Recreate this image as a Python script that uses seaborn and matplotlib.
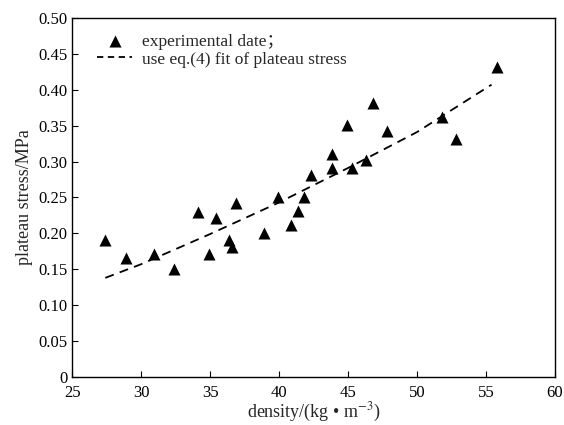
import pandas as pd
import matplotlib
matplotlib.use("Agg")
import matplotlib.pyplot as plt
import seaborn as sns

# experimental points
density = [27.4, 28.9, 30.9, 32.4, 34.1, 34.9, 35.4, 36.4, 36.6, 36.9,
           38.9, 39.9, 40.85, 41.35, 41.8, 42.3, 43.8, 43.8, 44.9, 45.3,
           46.3, 46.8, 47.8, 51.8, 52.8, 55.8]
stress = [0.191, 0.165, 0.171, 0.151, 0.230, 0.171, 0.221, 0.191, 0.181, 0.242,
          0.201, 0.251, 0.212, 0.231, 0.251, 0.281, 0.311, 0.291, 0.351, 0.291,
          0.302, 0.381, 0.342, 0.362, 0.331, 0.432]

# fitted curve, eq.(4)
fit_density = [27.4, 30, 35, 40, 45, 50, 55.4]
fit_stress = [0.138, 0.157, 0.199, 0.243, 0.291, 0.341, 0.407]

df = pd.DataFrame({"density": density, "stress": stress})
df_fit = pd.DataFrame({"density": fit_density, "stress": fit_stress})

sns.set_style("ticks")
plt.rcParams['font.family'] = ['Liberation Serif', 'Noto Sans CJK SC']
plt.rcParams['mathtext.fontset'] = 'stix'

fig = plt.figure(figsize=(5.64, 4.25), dpi=100)
ax = fig.add_axes([0.128, 0.113, 0.856, 0.845])

sns.scatterplot(data=df, x="density", y="stress", marker="^", color="black",
                s=75, edgecolor="black", linewidth=0, ax=ax,
                label="experimental date；")
sns.lineplot(data=df_fit, x="density", y="stress", color="black",
             linewidth=1.3, ax=ax, label="use eq.(4) fit of plateau stress")
ax.lines[-1].set_dashes((5, 3.5))

ax.set_xlim(25, 60)
ax.set_ylim(0, 0.5)
ax.set_xticks(range(25, 61, 5))
ax.set_yticks([i * 0.05 for i in range(11)])
ax.set_yticklabels([f"{i * 0.05:.2f}" if i else "0" for i in range(11)])
ax.tick_params(direction="in", length=4, width=0.8, labelsize=12, colors="black")
ax.tick_params(axis="x", pad=6)
for sp in ax.spines.values():
    sp.set_linewidth(1.0)
    sp.set_color("black")

ax.set_xlabel(r"density/(kg • m$^{-3}$)", fontsize=13, labelpad=0)
ax.set_ylabel("plateau stress/MPa", fontsize=13)

leg = ax.legend(loc="upper left", bbox_to_anchor=(0.02, 1.0), frameon=False,
                fontsize=12.5, handlelength=2.0, handletextpad=0.55, labelspacing=0.1)
for ln in leg.get_lines():
    if ln.get_linestyle() not in ("None", ""):
        ln.set_dashes((3.5, 2.5))

fig.savefig("out.png", dpi=100)
